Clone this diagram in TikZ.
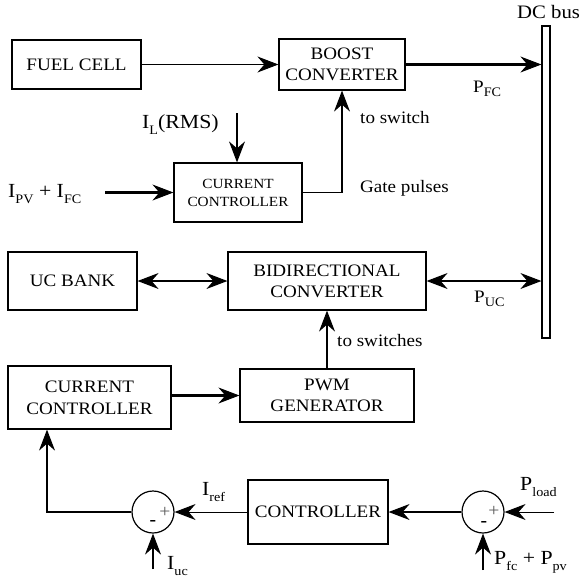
\documentclass[tikz,border=0pt]{standalone}
\usepackage{fontspec}
\setmainfont{Liberation Serif}[FakeStretch=1.09]
\usetikzlibrary{arrows.meta,calc}
\newcommand\fs[1]{\fontsize{#1}{#1}\selectfont}
\newcommand\subs[2][5pt]{\raisebox{-#1}{\fs{13}#2}}
\tikzset{
  hd/.tip={Stealth[length=21pt,width=16pt,inset=7pt,line width=1pt]},
}
\begin{document}
\begin{tikzpicture}[x=1pt,y=-1pt,
  box/.style={draw,line width=1.2pt,inner sep=0pt,align=center,font=\fs{17.5},execute at begin node=\setlength{\baselineskip}{21pt}},
  sumc/.style={draw,circle,line width=1.2pt,minimum size=42pt,inner sep=0pt},
  tip/.style={-hd},
  dtip/.style={hd-hd},
  thinln/.style={line width=1pt},
  medln/.style={line width=1.6pt},
  thickln/.style={line width=2.5pt},
  lbl/.style={inner sep=0pt,anchor=base west,font=\fs{20}},
  slbl/.style={inner sep=0pt,anchor=base west,font=\fs{17.5}}]
\useasboundingbox (0,0) rectangle (581,581);
% boxes
\node[box,minimum width=129pt,minimum height=49pt] (fuel) at (76.5,64.5) {FUEL CELL};
\node[box,minimum width=126pt,minimum height=51pt] (boost) at (342,64.5) {BOOST\\CONVERTER};
\node[box,minimum width=128pt,minimum height=59pt,font=\fs{14},execute at begin node=\setlength{\baselineskip}{18pt}] (cc1) at (238,192.5) {CURRENT\\CONTROLLER};
\node[box,minimum width=129pt,minimum height=58pt] (ucb) at (72.5,281) {UC BANK};
\node[box,minimum width=198pt,minimum height=58pt] (bidir) at (327,281) {BIDIRECTIONAL\\CONVERTER};
\node[box,minimum width=174pt,minimum height=53pt] (pwm) at (327,395.5) {PWM\\GENERATOR};
\node[box,minimum width=163pt,minimum height=63pt,execute at begin node=\setlength{\baselineskip}{22pt}] (cc2) at (89.5,397.5) {CURRENT\\CONTROLLER};
\node[box,minimum width=140pt,minimum height=64pt] (ctrl) at (318,512) {CONTROLLER};
\node[sumc] (s1) at (153,512) {};
\node[sumc] (s2) at (483,512) {};
\node[draw,line width=1.2pt,fill=white,minimum width=8pt,minimum height=312pt,inner sep=0pt] (bus) at (546,182) {};
% signs
\node[inner sep=0pt,text=black!65,font=\fs{18}] (p1) at (165,512) {+};
\node[inner sep=0pt,font=\bfseries\fs{18}] (m1) at (153,523) {-};
\node[inner sep=0pt,text=black!65,font=\fs{18}] (p2) at (494,511) {+};
\node[inner sep=0pt,font=\bfseries\fs{18}] (m2) at (484,524) {-};
% free ends
\coordinate (ilc) at (237,113);
\coordinate (ipv) at (105,192.5);
\coordinate (fb) at (47,512);
\coordinate (iuc) at (153,569);
\coordinate (pld) at (554,512);
\coordinate (pfc) at (483,570);
% connectors
\draw[thinln,tip] (fuel.east) -- (boost.west);
\draw[thickln,tip] (boost.east) -- (boost.east -| bus.west);
\draw[medln,tip] (ilc) -- (ilc |- cc1.north);
\draw[thickln,tip] (ipv) -- (cc1.west);
\draw[medln,tip] (cc1.east) -| (boost.south);
\draw[thickln,dtip] (ucb.east) -- (bidir.west);
\draw[thickln,dtip] (bidir.east) -- (bidir.east -| bus.west);
\draw[thickln,tip] (pwm.north) -- (bidir.south);
\draw[thickln,tip] (pwm.west -| cc2.east) -- (pwm.west);
\draw[thickln,tip] (s1.west) -- (fb) -- (fb |- cc2.south);
\draw[thickln,tip] (iuc) -- (s1.south);
\draw[thinln,tip] (ctrl.west) -- (s1.east);
\draw[thickln,tip] (s2.west) -- (ctrl.east);
\draw[thinln,tip] (pld) -- (s2.east);
\draw[thickln,tip] (pfc) -- (s2.south);
% labels
\node[slbl,font=\fs{19}] (dcbus) at (517,18) {DC bus};
\node[slbl] (lpfc) at (473,92) {P\subs[4pt]{FC}};
\node[slbl] (lpuc) at (474,302) {P\subs[4pt]{UC}};
\node[slbl] (tosw) at (360,123) {to switch};
\node[slbl] (gate) at (360,192) {Gate pulses};
\node[slbl] (tosws) at (337,346) {to switches};
\node[lbl] (lil) at (142,128) {I\subs[6pt]{L}(RMS)};
\node[lbl] (lipv) at (8,197) {I\subs[6pt]{PV} + I\subs[6pt]{FC}};
\node[lbl] (liref) at (202,495) {I\subs[6pt]{ref}};
\node[lbl] (liuc) at (167,569) {I\subs[6pt]{uc}};
\node[lbl] (lpload) at (520,490) {P\subs[6pt]{load}};
\node[lbl] (lpfcpv) at (494,564) {P\subs[6pt]{fc} + P\subs[6pt]{pv}};
\end{tikzpicture}
\end{document}
